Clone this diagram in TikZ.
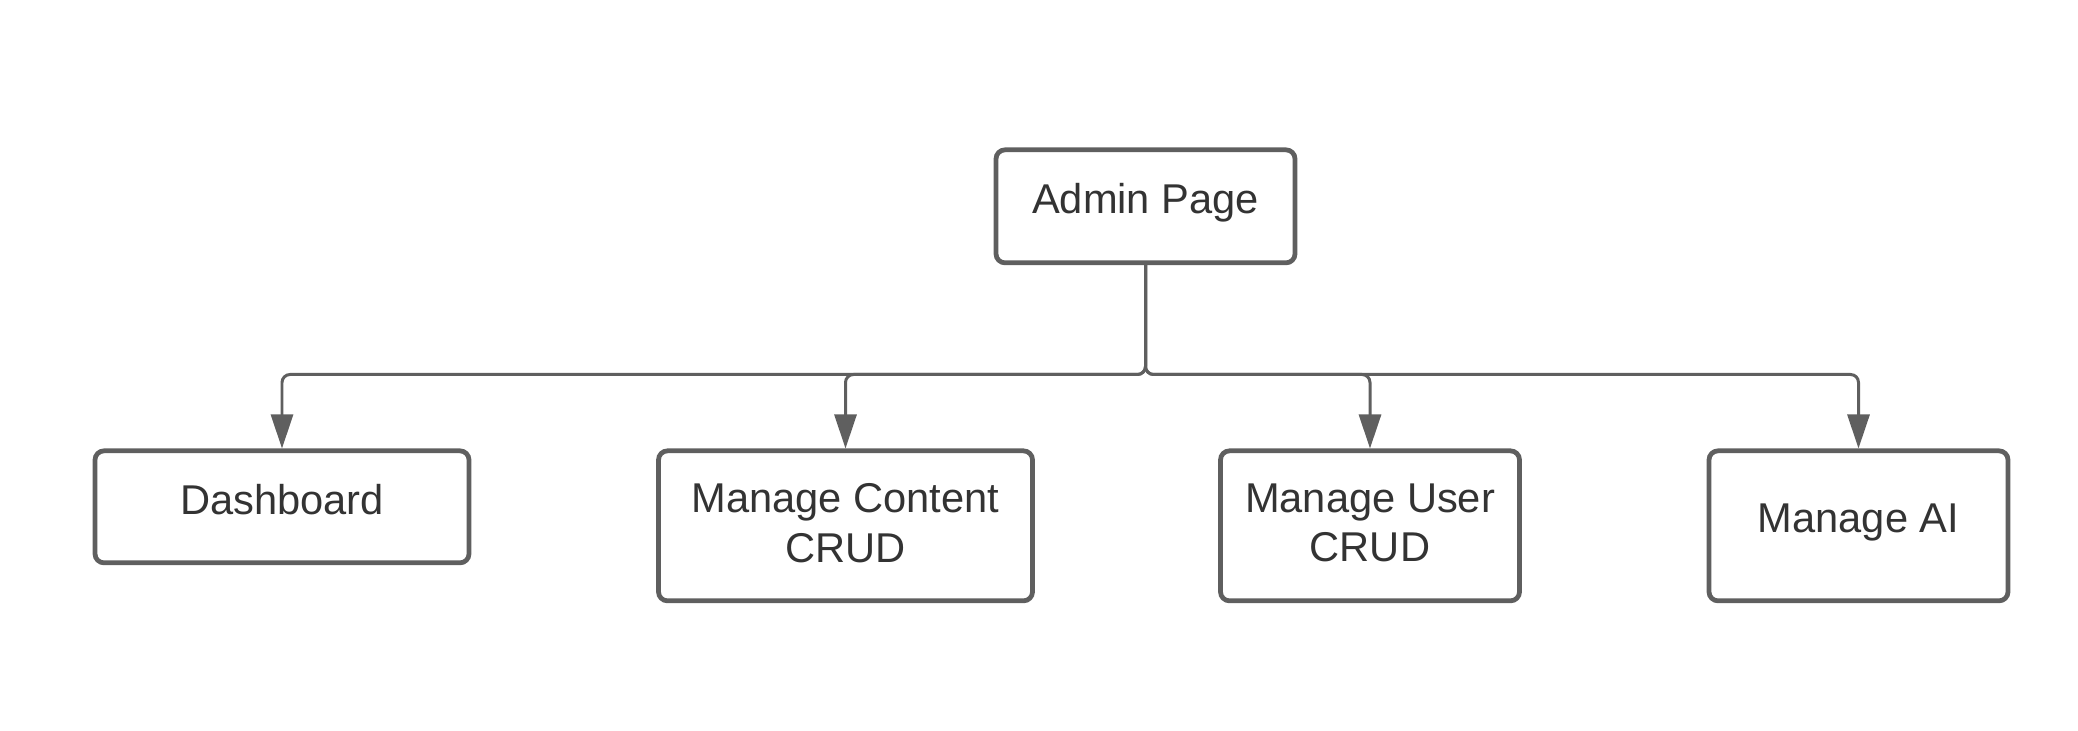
\documentclass[tikz,border=0pt]{standalone}
\usepackage{fontspec}
\setmainfont{Liberation Sans}
\usetikzlibrary{arrows.meta}
\definecolor{linegray}{HTML}{5F5F5F}
\definecolor{textgray}{HTML}{333333}

\begin{document}
\begin{tikzpicture}[
 page/.style={draw=linegray,line width=1.35pt,rounded corners=0.09cm,fill=white,text=textgray,align=center,font=\fontsize{11.85}{14}\selectfont,anchor=north,inner sep=0pt,text depth=0.15cm},
 link/.style={draw=linegray,line width=0.85pt,rounded corners=0.08cm,-{Triangle[length=0.34cm,width=0.22cm]}}]
 \useasboundingbox (0,0) rectangle (20.78,7.31);
 \node[page,minimum width=2.99cm,minimum height=1.13cm] (admin) at (11.455,5.835) {Admin Page};
 \node[page,minimum width=3.74cm,minimum height=1.12cm] (dash) at (2.82,2.825) {Dashboard};
 \node[page,minimum width=3.74cm,minimum height=1.50cm,text depth=0.06cm] (content) at (8.455,2.825) {Manage Content\\CRUD};
 \node[page,minimum width=2.99cm,minimum height=1.50cm,text depth=0.06cm] (user) at (13.70,2.825) {Manage User\\CRUD};
 \node[page,minimum width=2.99cm,minimum height=1.50cm] (ai) at (18.585,2.825) {Manage AI};
 \coordinate (bus) at (11.455,3.565);
 \draw[link] (admin.south) -- (bus) -| (dash.north);
 \draw[link] (admin.south) -- (bus) -| (content.north);
 \draw[link] (admin.south) -- (bus) -| (user.north);
 \draw[link] (admin.south) -- (bus) -| (ai.north);
\end{tikzpicture}
\end{document}
